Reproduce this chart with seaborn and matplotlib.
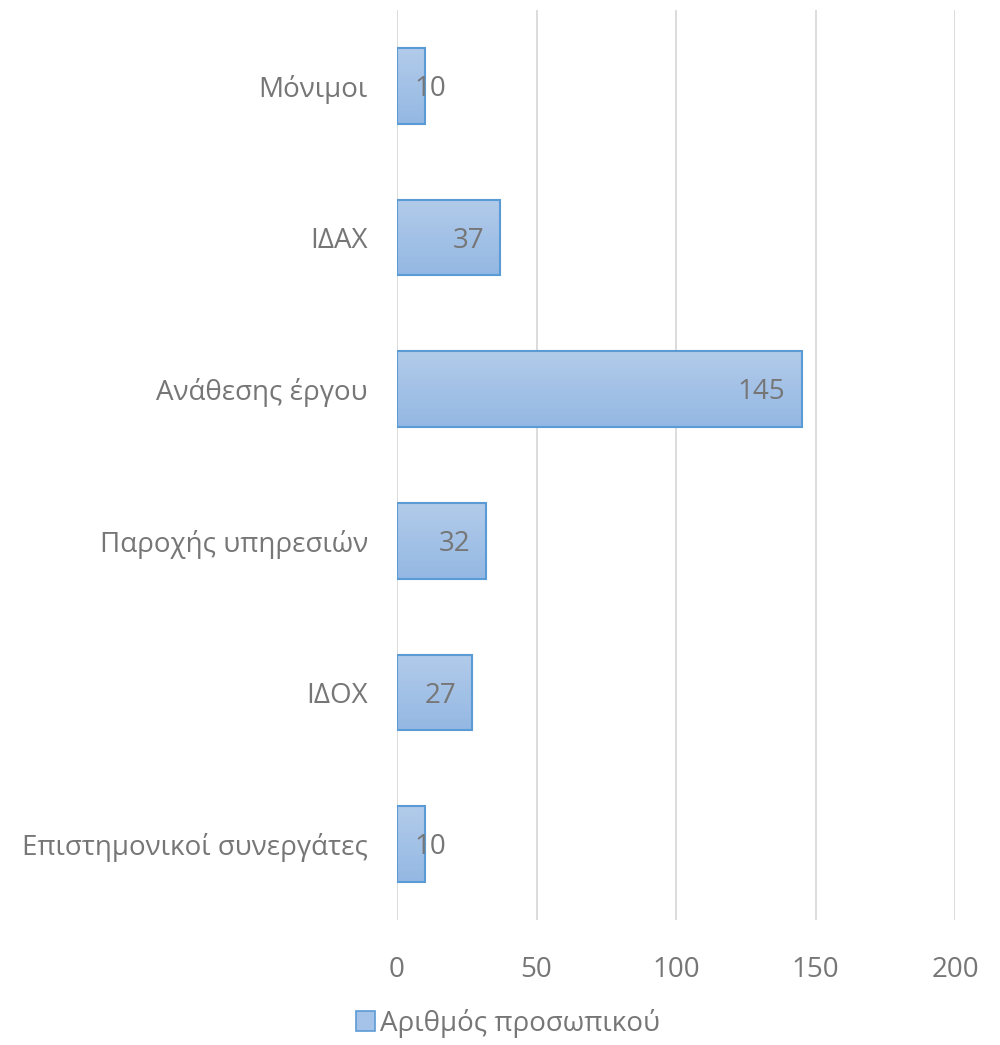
import numpy as np
import pandas as pd
import matplotlib
matplotlib.use("Agg")
import matplotlib.pyplot as plt
import seaborn as sns
from matplotlib.patches import Patch

categories = ["Μόνιμοι", "ΙΔΑΧ", "Ανάθεσης έργου", "Παροχής υπηρεσιών", "ΙΔΟΧ", "Επιστημονικοί συνεργάτες"]
values = [10, 37, 145, 32, 27, 10]
series_name = "Αριθμός προσωπικού"
xticks = [0, 50, 100, 150, 200]

df = pd.DataFrame({"cat": categories, "n": values})

sns.set_style("white")
plt.rcParams["font.family"] = ["Open Sans", "DejaVu Sans"]

text_col = "#767676"
edge_col = "#5b9bd5"
top_col = np.array([178, 203, 234]) / 255
bot_col = np.array([148, 184, 227]) / 255
fs = 20

fig = plt.figure(figsize=(10, 10.45), dpi=100)
ax = fig.add_axes([0.397, 1 - 920 / 1045, 0.558, 910 / 1045])

sns.barplot(data=df, y="cat", x="n", orient="h", width=0.5, ax=ax,
            color="#a5c3e8", edgecolor=edge_col, linewidth=1.5, zorder=3)

# gradient fill inside each bar
grad = np.linspace(0, 1, 64)[:, None, None]
img = top_col * (1 - grad) + bot_col * grad
for p in ax.patches:
    x0, y0 = p.get_x(), p.get_y()
    w, h = p.get_width(), p.get_height()
    im = ax.imshow(img, extent=(x0, x0 + w, y0 + h, y0), origin="upper",
                   aspect="auto", zorder=2.5, interpolation="bilinear")
    im.set_clip_path(p)
    p.set_facecolor("none")

ax.set_xlim(0, 200)
ax.set_ylim(len(categories) - 0.5, -0.5)
ax.set_xticks(xticks)
ax.xaxis.grid(True, color="#d9d9d9", linewidth=1.3, zorder=0)
ax.set_axisbelow(True)
for s in ax.spines.values():
    s.set_visible(False)
ax.tick_params(axis="both", length=0, labelsize=fs, labelcolor=text_col)
ax.tick_params(axis="x", pad=26)
ax.tick_params(axis="y", pad=21)
ax.set_xlabel("")
ax.set_ylabel("")

# value labels at inside end
for i, v in enumerate(values):
    if v < 20:
        ax.text(6.3, i + 0.02, str(v), ha="left", va="center", fontsize=fs, color=text_col, zorder=5)
    else:
        ax.text(v - 5.8, i + 0.02, str(v), ha="right", va="center", fontsize=fs, color=text_col, zorder=5)

handle = Patch(facecolor="#a5c3e8", edgecolor=edge_col, linewidth=1.2)
fig.legend([handle], [series_name], loc="center", bbox_to_anchor=(0.508, 1 - 1023 / 1045),
           frameon=False, fontsize=fs, labelcolor=text_col, handlelength=0.7, handleheight=0.7,
           handletextpad=0.2)

fig.savefig("out.png", dpi=100)
